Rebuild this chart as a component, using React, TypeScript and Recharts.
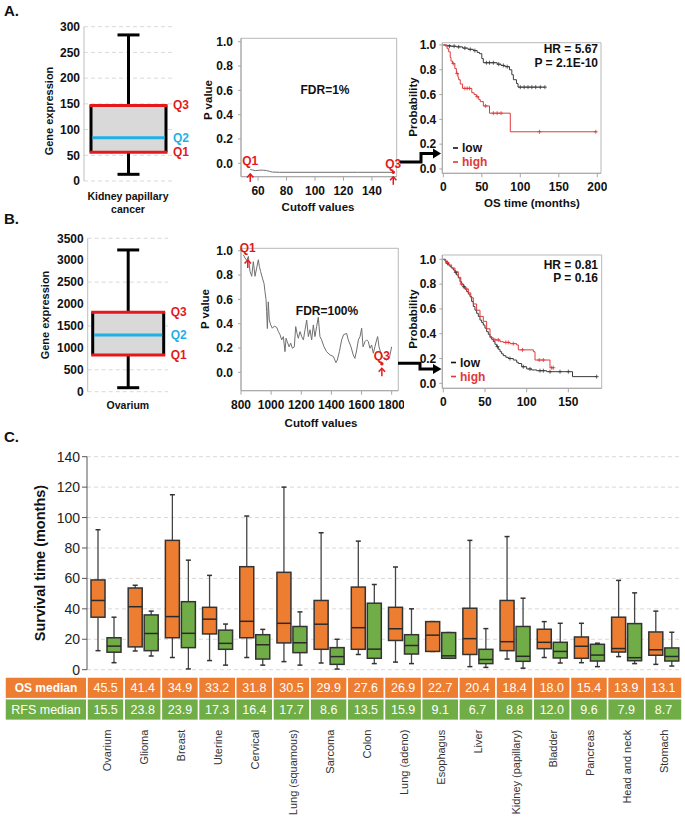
import {
  BarChart,
  Bar,
  XAxis,
  YAxis,
  CartesianGrid,
  LineChart,
  Line,
  ComposedChart,
  Scatter,
  ReferenceArea,
  ReferenceDot,
} from "recharts";

const FONT = "'Liberation Sans', Arial, Helvetica, sans-serif";
const NARROW = "'Liberation Sans Narrow', 'Arial Narrow', 'Liberation Sans', Arial, sans-serif";
const RED = "#e3191c";
const BLUE = "#1fb0e6";
const ORANGE = "#ed7d31";
const GREEN = "#70ad47";
const KM_LOW = "#3a3a3a";
const KM_HIGH = "#e0393b";
const AXIS = "#a6a6a6";

// A/B: expression boxes
const boxNames = ["Kidney papillary cancer", "Ovarium"];
const boxMin = [13, 91];
const boxQ1 = [56, 837];
const boxQ2 = [84, 1294];
const boxQ3 = [147, 1811];
const boxMax = [284, 3234];
const kidneyTicks = [0, 50, 100, 150, 200, 250, 300];
const ovariumTicks = [0, 500, 1000, 1500, 2000, 2500, 3000, 3500];

// A/B: p value vs cutoff
const pTicks = [0, 0.2, 0.4, 0.6, 0.8, 1.0];
const cutoffA = [54.5, 56, 58, 60, 62, 64, 66, 68, 70, 75, 100, 130, 155];
const pValueA = [-0.05, -0.055, -0.06, -0.058, -0.056, -0.057, -0.06, -0.066, -0.072, -0.074, -0.074, -0.074, -0.074];
const cutoffTicksA = [60, 80, 100, 120, 140];
const quartCutA = [54.5, 155];
const quartPA = [-0.05, -0.074];

const cutoffB = [
  815, 827, 838, 849, 860, 871, 882, 893, 904, 915, 922, 930, 942, 953, 959, 966, 970, 975, 981, 988,
  997, 1008, 1021, 1037, 1048, 1059, 1070, 1081, 1092, 1099, 1107, 1119, 1130, 1141, 1154, 1163, 1172, 1180, 1192, 1203,
  1214, 1225, 1236, 1247, 1258, 1269, 1280, 1291, 1302, 1313, 1324, 1335, 1351, 1368, 1391, 1413, 1430, 1439, 1453, 1468,
  1481, 1501, 1512, 1530, 1545, 1556, 1568, 1579, 1590, 1601, 1610, 1623, 1634, 1645, 1656, 1667, 1678, 1689, 1700, 1707,
  1716, 1729, 1745, 1767, 1784, 1800,
];
const pValueB = [
  0.967, 0.94, 0.92, 0.953, 0.83, 0.79, 0.91, 0.79, 0.857, 0.926, 0.87, 0.83, 0.775, 0.73, 0.665, 0.6, 0.5, 0.36, 0.58, 0.43,
  0.39, 0.363, 0.38, 0.37, 0.335, 0.31, 0.267, 0.294, 0.17, 0.28, 0.253, 0.21, 0.24, 0.198, 0.21, 0.376, 0.32, 0.28, 0.335, 0.294,
  0.267, 0.35, 0.43, 0.294, 0.35, 0.267, 0.39, 0.294, 0.376, 0.453, 0.294, 0.267, 0.21, 0.17, 0.143, 0.13, 0.08, 0.1, 0.17, 0.267,
  0.31, 0.32, 0.267, 0.21, 0.143, 0.115, 0.184, 0.267, 0.294, 0.363, 0.21, 0.253, 0.267, 0.253, 0.198, 0.225, 0.157, 0.21, 0.267, 0.294,
  0.21, 0.157, 0.115, 0.1, 0.115, 0.21,
];
const cutoffTicksB = [800, 1000, 1200, 1400, 1600, 1800];
const quartCutB = [845, 1735];
const quartPB = [0.96, 0.07];

// A/B: Kaplan-Meier curves
const kmTicks = [0, 0.2, 0.4, 0.6, 0.8, 1.0];
const lowTimeA = [0, 5, 10, 17, 25, 32, 39, 44, 47, 50, 52, 70, 75, 80, 86, 89, 91, 95, 97, 132];
const lowProbA = [1.0, 0.995, 0.99, 0.985, 0.975, 0.965, 0.955, 0.94, 0.93, 0.89, 0.857, 0.845, 0.835, 0.825, 0.8, 0.76, 0.72, 0.69, 0.66, 0.66];
const highTimeA = [0, 3, 5, 7, 9, 10, 12, 15, 17, 19, 20, 22, 25, 37, 40, 43, 46, 48, 52, 60, 87, 199];
const highProbA = [1.0, 0.99, 0.97, 0.945, 0.9, 0.87, 0.85, 0.81, 0.77, 0.74, 0.72, 0.685, 0.65, 0.615, 0.6, 0.583, 0.56, 0.543, 0.508, 0.45, 0.3, 0.3];
const lowCensorTimeA = [8, 14, 20, 28, 35, 41, 56, 60, 65, 72, 78, 83, 100, 105, 110, 115, 120, 126, 132];
const lowCensorProbA = [0.99, 0.99, 0.985, 0.975, 0.965, 0.955, 0.857, 0.857, 0.857, 0.845, 0.835, 0.825, 0.66, 0.66, 0.66, 0.66, 0.66, 0.66, 0.66];
const highCensorTimeA = [13, 18, 28, 31, 34, 44, 55, 65, 70, 75, 125, 198];
const highCensorProbA = [0.85, 0.77, 0.65, 0.65, 0.65, 0.583, 0.508, 0.45, 0.45, 0.45, 0.3, 0.3];

const lowTimeB = [
  0, 2, 4, 6, 8, 10, 12, 14, 16, 18, 20, 22, 24, 26, 28, 30, 32, 34, 36, 38, 40, 42, 44, 46, 48, 50, 52, 54, 56, 58, 60, 62, 64, 66, 68, 70, 72,
  75, 78, 84, 88, 90, 94, 100, 106, 112, 124, 155, 184,
];
const lowProbB = [
  1, 0.985, 0.968, 0.955, 0.94, 0.93, 0.914, 0.895, 0.874, 0.85, 0.82, 0.8, 0.78, 0.76, 0.74, 0.72, 0.7, 0.66, 0.62, 0.59, 0.565, 0.54,
  0.51, 0.49, 0.47, 0.445, 0.417, 0.395, 0.376, 0.355, 0.336, 0.315, 0.296, 0.275, 0.255, 0.238, 0.223, 0.21, 0.2, 0.188, 0.17, 0.16,
  0.134, 0.116, 0.108, 0.102, 0.094, 0.054, 0.054,
];
const highTimeB = [0, 3, 6, 10, 14, 18, 21, 24, 27, 30, 33, 36, 40, 44, 48, 52, 56, 60, 68, 72, 80, 88, 90, 108, 110, 128, 132];
const highProbB = [1, 0.975, 0.955, 0.93, 0.9, 0.855, 0.8, 0.77, 0.76, 0.73, 0.69, 0.64, 0.59, 0.54, 0.5, 0.44, 0.368, 0.35, 0.336, 0.33, 0.32, 0.31, 0.27, 0.255, 0.188, 0.126, 0.126];
const lowCensorTimeB = [5, 15, 25, 65, 80, 96, 104, 116, 120, 128, 140, 150, 184];
const lowCensorProbB = [0.968, 0.895, 0.78, 0.296, 0.2, 0.134, 0.116, 0.102, 0.102, 0.094, 0.094, 0.094, 0.054];
const highCensorTimeB = [5, 22, 28, 62, 66, 75, 78, 84, 95, 115, 120, 130, 132];
const highCensorProbB = [0.975, 0.8, 0.76, 0.35, 0.35, 0.33, 0.33, 0.32, 0.27, 0.188, 0.188, 0.126, 0.126];

// C: survival by cancer type
const cancers = [
  "Ovarium", "Glioma", "Breast", "Uterine", "Cervical", "Lung (squamous)", "Sarcoma", "Colon",
  "Lung (adeno)", "Esophagus", "Liver", "Kidney (papillary)", "Bladder", "Pancreas", "Head and neck", "Stomach",
];
const osMin = [12.5, 12.3, 8, 6, 8, 5.3, 4.4, 10, 5, 12, 2, 7, 8, 4.6, 8.6, 3.5];
const osQ1 = [34.5, 15, 21, 23.5, 21, 17.6, 13.4, 13.4, 19.2, 12, 10, 12.5, 13.8, 7.5, 11.6, 9.5];
const osMedian = [45.5, 41.4, 34.9, 33.2, 31.8, 30.5, 29.9, 27.6, 26.9, 22.7, 20.4, 18.4, 18.0, 15.4, 13.9, 13.1];
const osQ3 = [59, 53.7, 85, 41, 67.7, 64, 45.5, 54.3, 41, 31.6, 40.4, 45.5, 26.6, 21.5, 34.5, 24.8];
const osMax = [92, 55.5, 115, 62, 101, 120, 90, 84.5, 67.5, 31.6, 85, 87.5, 31.6, 30.5, 58.7, 38.5];
const rfsMin = [4.6, 9, 0.5, 3, 3, 3, 0.4, 4, 4, 7.5, 1.5, 1, 4.4, 2, 4, 2.4];
const rfsQ1 = [11.5, 12.5, 14.5, 13.4, 7, 11.2, 3.5, 7.5, 10.3, 7.5, 4, 5.5, 7.7, 5.7, 5.9, 5.7];
const rfsMedian = [15.5, 23.8, 23.9, 17.3, 16.4, 17.7, 8.6, 13.5, 15.9, 9.1, 6.7, 8.8, 12.0, 9.6, 7.9, 8.7];
const rfsQ3 = [21, 36, 44.7, 26, 23, 28.4, 14.5, 43.7, 23, 24.4, 13.4, 28.4, 18, 16.7, 30.3, 14.3];
const rfsMax = [34.5, 38.5, 72, 30, 26.5, 38, 20, 56, 40, 24.4, 27, 47, 30.5, 17.4, 50.5, 24.6];
const survivalTicks = [0, 20, 40, 60, 80, 100, 120, 140];

const survivalRows = cancers.map((name, i) => ({
  name,
  osMin: osMin[i], osQ1: osQ1[i], osMed: osMedian[i], osQ3: osQ3[i], osMax: osMax[i],
  rfsMin: rfsMin[i], rfsQ1: rfsQ1[i], rfsMed: rfsMedian[i], rfsQ3: rfsQ3[i], rfsMax: rfsMax[i],
}));

const CELL_W = 595 / cancers.length;

const boldTick = { fontSize: 12, fontWeight: 700, fill: "#111", fontFamily: FONT };

function ExprBoxShape(props: any) {
  const { x, y, width, height, payload } = props;
  const top = Math.min(y, y + height);
  const bottom = Math.max(y, y + height);
  const py = (v: number) => bottom - ((v - payload.min) / (payload.max - payload.min)) * (bottom - top);
  const cx = x + width / 2;
  const yMax = py(payload.max);
  const yQ3 = py(payload.q3);
  const yQ2 = py(payload.q2);
  const yQ1 = py(payload.q1);
  const yMin = py(payload.min);
  const lab = { fontSize: 12, fontWeight: 700, fontFamily: FONT, dominantBaseline: "central" as const };
  return (
    <g>
      <line x1={cx} x2={cx} y1={yMax} y2={yQ3} stroke="#000" strokeWidth={3} />
      <line x1={cx} x2={cx} y1={yQ1} y2={yMin} stroke="#000" strokeWidth={3} />
      <line x1={cx - 11} x2={cx + 11} y1={yMax} y2={yMax} stroke="#000" strokeWidth={3} />
      <line x1={cx - 11} x2={cx + 11} y1={yMin} y2={yMin} stroke="#000" strokeWidth={3} />
      <rect x={x} y={yQ3} width={width} height={yQ1 - yQ3} fill="#d9d9d9" />
      <line x1={x} x2={x} y1={yQ3} y2={yQ1} stroke="#000" strokeWidth={3} />
      <line x1={x + width} x2={x + width} y1={yQ3} y2={yQ1} stroke="#000" strokeWidth={3} />
      <line x1={x - 1.5} x2={x + width + 1.5} y1={yQ3} y2={yQ3} stroke={RED} strokeWidth={3} />
      <line x1={x - 1.5} x2={x + width + 1.5} y1={yQ1} y2={yQ1} stroke={RED} strokeWidth={3} />
      <line x1={x + 1.5} x2={x + width - 1.5} y1={yQ2} y2={yQ2} stroke={BLUE} strokeWidth={3} />
      <text x={x + width + 7} y={yQ3} fill={RED} {...lab}>Q3</text>
      <text x={x + width + 7} y={yQ2} fill={BLUE} {...lab}>Q2</text>
      <text x={x + width + 7} y={yQ1} fill={RED} {...lab}>Q1</text>
    </g>
  );
}

// category name under the box, long names wrapped after the second word
function BoxCategoryTick(props: any) {
  const words = String(props.payload.value).split(" ");
  const lines = words.length > 2 ? [words.slice(0, 2).join(" "), words.slice(2).join(" ")] : [words.join(" ")];
  return (
    <text x={props.x} y={props.y + 8} textAnchor="middle" fill="#111" fontSize={10.5} fontWeight={700} fontFamily={FONT}>
      {lines.map((l, i) => (
        <tspan key={i} x={props.x} dy={i === 0 ? 0 : 13}>
          {l}
        </tspan>
      ))}
    </text>
  );
}

function ExpressionBox({ idx, ticks, left, top, width, height, margin, xHeight, tickMargin, barSize }: any) {
  const data = [{ name: boxNames[idx], min: boxMin[idx], q1: boxQ1[idx], q2: boxQ2[idx], q3: boxQ3[idx], max: boxMax[idx] }];
  return (
    <div style={{ position: "absolute", left, top }}>
      <BarChart width={width} height={height} data={data} margin={margin}>
        <CartesianGrid vertical={false} stroke="#d9d9d9" strokeDasharray="4 3" />
        <XAxis dataKey="name" height={xHeight} axisLine={false} tickLine={false} tickSize={0} tickMargin={tickMargin} tick={BoxCategoryTick} interval={0} />
        <YAxis
          width={40}
          domain={[ticks[0], ticks[ticks.length - 1]]}
          ticks={ticks}
          axisLine={{ stroke: "#bfbfbf" }}
          tickLine={false}
          tickSize={4}
          tickMargin={0}
          tick={boldTick}
        />
        <Bar dataKey={(d: any) => [d.min, d.max]} barSize={barSize} shape={ExprBoxShape} isAnimationActive={false} />
      </BarChart>
    </div>
  );
}

const qMark = (label: string, dot: boolean) => (p: any) => (
  <g>
    <text x={p.cx} y={p.cy - 8} textAnchor="middle" dominantBaseline="central" fill={RED} fontSize={12} fontWeight={700} fontFamily={FONT}>
      {label}
    </text>
    {dot && <circle cx={p.cx} cy={p.cy} r={1.7} fill={RED} />}
    <line x1={p.cx} x2={p.cx} y1={p.cy + 12.5} y2={p.cy + 4.5} stroke={RED} strokeWidth={1.5} />
    <path d={`M${p.cx - 3.2} ${p.cy + 8} L${p.cx} ${p.cy + 4.5} L${p.cx + 3.2} ${p.cy + 8}`} stroke={RED} strokeWidth={1.5} fill="none" />
  </g>
);

function CutoffChart({ cuts, pvals, xDomain, yDomain, xTicks, qCut, qP, left, top, width, height, margin }: any) {
  const data = cuts.map((c: number, i: number) => ({ cut: c, p: pvals[i] }));
  return (
    <div style={{ position: "absolute", left, top }}>
      <LineChart width={width} height={height} data={data} margin={margin}>
        <ReferenceArea x1={xDomain[0]} x2={xDomain[1]} y1={yDomain[0]} y2={yDomain[1]} fill="none" stroke="#b8b8b8" ifOverflow="visible" />
        <XAxis
          type="number"
          dataKey="cut"
          domain={xDomain}
          allowDataOverflow
          ticks={xTicks}
          interval={0}
          height={24}
          axisLine={{ stroke: AXIS }}
          tickLine={{ stroke: AXIS }}
          tickSize={4}
          tickMargin={6}
          tick={boldTick}
        />
        <YAxis
          type="number"
          domain={yDomain}
          allowDataOverflow
          ticks={pTicks}
          interval={0}
          width={30}
          axisLine={{ stroke: AXIS }}
          tickLine={{ stroke: AXIS }}
          tickSize={3}
          tickMargin={5}
          tick={boldTick}
          tickFormatter={(v: number) => v.toFixed(1)}
        />
        <Line type="linear" dataKey="p" stroke="#6f6f6f" strokeWidth={1} dot={false} isAnimationActive={false} />
        <ReferenceDot x={qCut[0]} y={qP[0]} r={2} ifOverflow="visible" shape={qMark("Q1", false)} />
        <ReferenceDot x={qCut[1]} y={qP[1]} r={2} ifOverflow="visible" shape={qMark("Q3", true)} />
      </LineChart>
    </div>
  );
}

const censorShape = (color: string) => (p: any) => (
  <g stroke={color} strokeWidth={0.8}>
    <line x1={p.cx - 2} x2={p.cx + 2} y1={p.cy} y2={p.cy} />
    <line x1={p.cx} x2={p.cx} y1={p.cy - 2} y2={p.cy + 2} />
  </g>
);

const pairs = (ts: number[], ps: number[]) => ts.map((t, i) => ({ t, p: ps[i] }));

function KmChart({ low, high, lowCensor, highCensor, xDomain, yDomain, xTicks, left, top, width, height, margin }: any) {
  return (
    <div style={{ position: "absolute", left, top }}>
      <ComposedChart width={width} height={height} margin={margin}>
        <ReferenceArea x1={xDomain[0]} x2={xDomain[1]} y1={yDomain[0]} y2={yDomain[1]} fill="none" stroke="#b8b8b8" ifOverflow="visible" />
        <XAxis
          type="number"
          dataKey="t"
          domain={xDomain}
          allowDataOverflow
          ticks={xTicks}
          interval={0}
          height={22}
          axisLine={{ stroke: AXIS }}
          tickLine={{ stroke: AXIS }}
          tickSize={4}
          tickMargin={5}
          tick={boldTick}
        />
        <YAxis
          type="number"
          domain={yDomain}
          allowDataOverflow
          ticks={kmTicks}
          interval={0}
          width={30}
          axisLine={{ stroke: AXIS }}
          tickLine={{ stroke: AXIS }}
          tickSize={3}
          tickMargin={3}
          tick={boldTick}
          tickFormatter={(v: number) => v.toFixed(1)}
        />
        <Line data={low} type="stepAfter" dataKey="p" stroke={KM_LOW} strokeWidth={1} dot={false} isAnimationActive={false} />
        <Line data={high} type="stepAfter" dataKey="p" stroke={KM_HIGH} strokeWidth={1} dot={false} isAnimationActive={false} />
        <Scatter data={lowCensor} dataKey="p" shape={censorShape(KM_LOW)} isAnimationActive={false} />
        <Scatter data={highCensor} dataKey="p" shape={censorShape(KM_HIGH)} isAnimationActive={false} />
      </ComposedChart>
    </div>
  );
}

const survivalShape = (key: string, fill: string) => (props: any) => {
  const { x, y, width, height, payload } = props;
  const lo = payload[key + "Min"];
  const hi = payload[key + "Max"];
  const top = Math.min(y, y + height);
  const bottom = Math.max(y, y + height);
  const py = (v: number) => bottom - ((v - lo) / (hi - lo)) * (bottom - top);
  const cx = x + width / 2;
  const yHi = py(hi);
  const yQ3 = py(payload[key + "Q3"]);
  const yMed = py(payload[key + "Med"]);
  const yQ1 = py(payload[key + "Q1"]);
  const yLo = py(lo);
  return (
    <g>
      <line x1={cx} x2={cx} y1={yHi} y2={yQ3} stroke="#444" strokeWidth={1.3} />
      <line x1={cx} x2={cx} y1={yQ1} y2={yLo} stroke="#444" strokeWidth={1.3} />
      <line x1={cx - 2.5} x2={cx + 2.5} y1={yHi} y2={yHi} stroke="#333" strokeWidth={1.5} />
      <line x1={cx - 2.5} x2={cx + 2.5} y1={yLo} y2={yLo} stroke="#333" strokeWidth={1.5} />
      <rect x={x} y={yQ3} width={width} height={Math.max(yQ1 - yQ3, 0.5)} fill={fill} stroke="#333" strokeWidth={1.5} />
      <line x1={x} x2={x + width} y1={yMed} y2={yMed} stroke="#2a2a2a" strokeWidth={1.5} />
    </g>
  );
};

function TableTick(props: any) {
  const { x, y, payload } = props;
  const i = cancers.indexOf(payload.value);
  const left = x - CELL_W / 2;
  const r1 = y + 7.3;
  const r2 = y + 29;
  const rowH = 21.7;
  const num = { fill: "#fff", fontSize: 12.5, fontFamily: NARROW, textAnchor: "middle" as const };
  return (
    <g>
      {i === 0 && (
        <g>
          <rect x={5} y={r1} width={left - 5} height={rowH} fill={ORANGE} stroke="#fff" strokeWidth={1.5} />
          <rect x={5} y={r2} width={left - 5} height={rowH} fill={GREEN} stroke="#fff" strokeWidth={1.5} />
          <text x={(5 + left) / 2} y={r1 + 15} fill="#fff" fontSize={12} fontWeight={700} fontFamily={NARROW} textAnchor="middle">
            OS median
          </text>
          <text x={(5 + left) / 2} y={r2 + 15} fill="#fff" fontSize={12.5} fontFamily={NARROW} textAnchor="middle">
            RFS median
          </text>
        </g>
      )}
      <rect x={left} y={r1} width={CELL_W} height={rowH} fill={ORANGE} stroke="#fff" strokeWidth={1.5} />
      <rect x={left} y={r2} width={CELL_W} height={rowH} fill={GREEN} stroke="#fff" strokeWidth={1.5} />
      <text x={x} y={r1 + 15} {...num}>{osMedian[i].toFixed(1)}</text>
      <text x={x} y={r2 + 15} {...num}>{rfsMedian[i].toFixed(1)}</text>
      <text
        x={x + 1}
        y={y + 60}
        transform={`rotate(-90 ${x + 1} ${y + 60})`}
        textAnchor="end"
        dominantBaseline="central"
        fontSize={11}
        fill="#333"
        fontFamily={FONT}
      >
        {payload.value}
      </text>
    </g>
  );
}

function Overlay() {
  const t = { fontFamily: FONT, fill: "#111" };
  const rot = (x: number, y: number) => `rotate(-90 ${x} ${y})`;
  return (
    <svg width={685} height={821} style={{ position: "absolute", left: 0, top: 0, pointerEvents: "none" }}>
      <g {...t} fontWeight={700}>
        <text x={4} y={16} fontSize={15}>A.</text>
        <text x={4} y={224} fontSize={15}>B.</text>
        <text x={4} y={442} fontSize={15}>C.</text>

        <text x={49} y={111} fontSize={11} textAnchor="middle" dominantBaseline="central" transform={rot(49, 111)}>Gene expression</text>
        <text x={45} y={315} fontSize={11} textAnchor="middle" dominantBaseline="central" transform={rot(45, 315)}>Gene expression</text>

        <text x={208} y={100} fontSize={11.5} textAnchor="middle" dominantBaseline="central" transform={rot(208, 100)}>P value</text>
        <text x={205} y={309} fontSize={11.5} textAnchor="middle" dominantBaseline="central" transform={rot(205, 309)}>P value</text>
        <text x={318} y={211} fontSize={11.5} textAnchor="middle">Cutoff values</text>
        <text x={321} y={427} fontSize={11.5} textAnchor="middle">Cutoff values</text>
        <text x={325} y={94} fontSize={12} textAnchor="middle">FDR=1%</text>
        <text x={327} y={315} fontSize={12} textAnchor="middle">FDR=100%</text>

        <text x={413} y={107} fontSize={11.5} textAnchor="middle" dominantBaseline="central" transform={rot(413, 107)}>Probability</text>
        <text x={413} y={319} fontSize={11.5} textAnchor="middle" dominantBaseline="central" transform={rot(413, 319)}>Probability</text>
        <text x={532} y={207} fontSize={11.5} textAnchor="middle">OS time (months)</text>

        <text x={598} y={53} fontSize={12} textAnchor="end">HR = 5.67</text>
        <text x={598} y={67} fontSize={12} textAnchor="end">P = 2.1E-10</text>
        <text x={598} y={269} fontSize={12} textAnchor="end">HR = 0.81</text>
        <text x={598} y={282} fontSize={12} textAnchor="end">P = 0.16</text>

        <text x={462} y={152} fontSize={12}>low</text>
        <text x={462} y={166} fontSize={12} fill={KM_HIGH}>high</text>
        <text x={460} y={366.5} fontSize={12}>low</text>
        <text x={460} y={380.5} fontSize={12} fill={KM_HIGH}>high</text>

        <text x={40} y={563} fontSize={14.5} textAnchor="middle" dominantBaseline="central" transform={rot(40, 563)}>Survival time (months)</text>
      </g>
      <line x1={453} x2={458} y1={148} y2={148} stroke="#111" strokeWidth={1.6} />
      <line x1={453} x2={458} y1={162} y2={162} stroke={KM_HIGH} strokeWidth={1.6} />
      <line x1={451} x2={456} y1={362.5} y2={362.5} stroke="#111" strokeWidth={1.6} />
      <line x1={451} x2={456} y1={376.5} y2={376.5} stroke={KM_HIGH} strokeWidth={1.6} />

      <path d="M400 162 H421 V153.5 H434" stroke="#000" strokeWidth={3} fill="none" />
      <polygon points="433,148.5 441,153.5 433,158.5" fill="#000" />
      <path d="M398 363.3 H420 V369 H434" stroke="#000" strokeWidth={3} fill="none" />
      <polygon points="433,364 441.5,369 433,374" fill="#000" />
    </svg>
  );
}

export default function App() {
  return (
    <div style={{ position: "absolute", left: 0, top: 0, width: 685, height: 821, background: "#fff", overflow: "hidden", fontFamily: FONT }}>
      <ExpressionBox
        idx={0}
        ticks={kidneyTicks}
        left={0}
        top={0}
        width={200}
        height={221}
        margin={{ top: 26.7, right: 28, bottom: 0, left: 44 }}
        xHeight={40}
        tickMargin={10.5}
        barSize={75}
      />
      <ExpressionBox
        idx={1}
        ticks={ovariumTicks}
        left={0}
        top={220}
        width={196}
        height={196.7}
        margin={{ top: 18.3, right: 28, bottom: 0, left: 47.7 }}
        xHeight={25}
        tickMargin={9}
        barSize={71}
      />

      <CutoffChart
        cuts={cutoffA}
        pvals={pValueA}
        xDomain={[48, 157.4]}
        yDomain={[-0.11, 1.028]}
        xTicks={cutoffTicksA}
        qCut={quartCutA}
        qP={quartPA}
        left={200}
        top={20}
        width={204.7}
        height={180.7}
        margin={{ top: 18.3, right: 8, bottom: 0, left: 11 }}
      />
      <CutoffChart
        cuts={cutoffB}
        pvals={pValueB}
        xDomain={[800, 1844]}
        yDomain={[-0.151, 1.02]}
        xTicks={cutoffTicksB}
        qCut={quartCutB}
        qP={quartPB}
        left={200}
        top={230}
        width={204.3}
        height={184.7}
        margin={{ top: 18.3, right: 6, bottom: 0, left: 11 }}
      />

      <KmChart
        low={pairs(lowTimeA, lowProbA)}
        high={pairs(highTimeA, highProbA)}
        lowCensor={pairs(lowCensorTimeA, lowCensorProbA)}
        highCensor={pairs(highCensorTimeA, highCensorProbA)}
        xDomain={[-1.3, 204.8]}
        yDomain={[-0.035, 1.0185]}
        xTicks={[0, 50, 100, 150, 200]}
        left={400}
        top={30}
        width={207}
        height={165.3}
        margin={{ top: 12.7, right: 6, bottom: 0, left: 12.3 }}
      />
      <KmChart
        low={pairs(lowTimeB, lowProbB)}
        high={pairs(highTimeB, highProbB)}
        lowCensor={pairs(lowCensorTimeB, lowCensorProbB)}
        highCensor={pairs(highCensorTimeB, highCensorProbB)}
        xDomain={[-1.2, 190]}
        yDomain={[-0.04, 1.035]}
        xTicks={[0, 50, 100, 150]}
        left={400}
        top={240}
        width={207.7}
        height={170.3}
        margin={{ top: 15, right: 6, bottom: 0, left: 12.3 }}
      />

      <div style={{ position: "absolute", left: 0, top: 440 }}>
        <BarChart width={685} height={380.7} data={survivalRows} margin={{ top: 16.7, right: 3, bottom: 0, left: 27 }} barGap={2}>
          <CartesianGrid vertical={false} stroke="#d9d9d9" strokeDasharray="4 3" />
          <XAxis dataKey="name" height={151} axisLine={false} tickLine={false} tickSize={0} tickMargin={0} interval={0} tick={TableTick} />
          <YAxis
            width={60}
            domain={[0, 140]}
            ticks={survivalTicks}
            axisLine={{ stroke: "#555" }}
            tickLine={{ stroke: "#555" }}
            tickSize={5}
            tickMargin={2}
            tick={{ fontSize: 14, fill: "#222", fontFamily: FONT }}
          />
          <Bar dataKey={(d: any) => [d.osMin, d.osMax]} barSize={14} shape={survivalShape("os", ORANGE)} isAnimationActive={false} />
          <Bar dataKey={(d: any) => [d.rfsMin, d.rfsMax]} barSize={14} shape={survivalShape("rfs", GREEN)} isAnimationActive={false} />
        </BarChart>
      </div>

      <Overlay />
    </div>
  );
}
